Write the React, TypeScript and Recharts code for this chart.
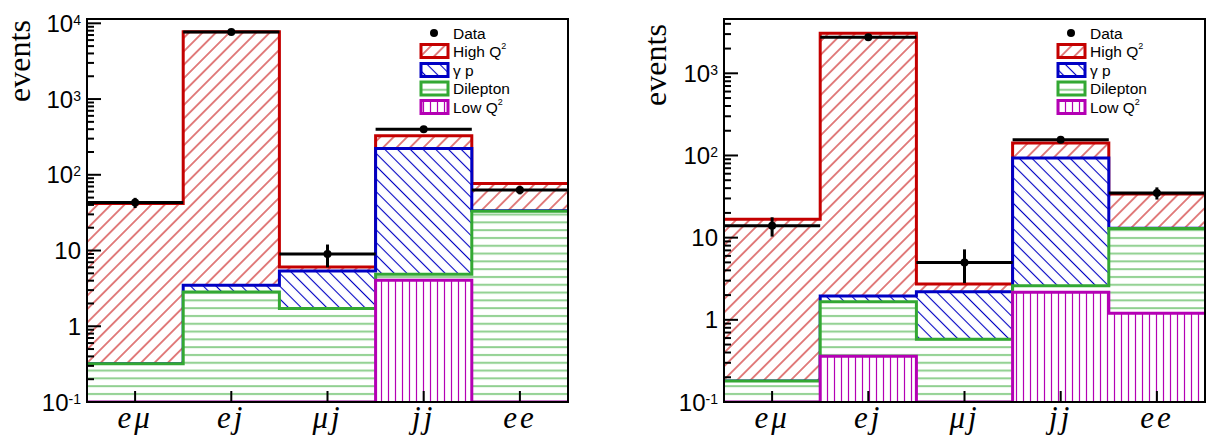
import React from 'react';
import { ComposedChart, Area, Scatter, ErrorBar, XAxis, YAxis, ReferenceArea, Customized } from 'recharts';

// ---------- data ----------
const categories = ['eμ', 'ej', 'μj', 'jj', 'ee'];

// left panel (cumulative stack tops)
const leftHighQ2 = [41.8, 7730, 6.07, 327, 76.7];
const leftGammaP = [0.32, 3.48, 5.38, 222, 33.5];
const leftDilepton = [0.32, 2.84, 1.71, 4.86, 33];
const leftLowQ2 = [0, 0, 0, 4.05, 0];
const leftData = [43, 7700, 9, 400, 63];
const leftErr = [6.6, 88, 3, 20, 7.9];
const leftMax = 11400;

// right panel (cumulative stack tops)
const rightHighQ2 = [16.7, 3070, 2.72, 141.6, 34];
const rightGammaP = [0.18, 1.95, 2.19, 93, 13];
const rightDilepton = [0.18, 1.66, 0.58, 2.6, 12.9];
const rightLowQ2 = [0, 0.36, 0, 2.16, 1.2];
const rightData = [14, 2740, 5, 155, 35];
const rightErr = [3.7, 52, 2.2, 12.4, 5.9];
const rightMax = 4580;

const YMIN = 0.1;

const RED = '#c40000';
const BLUE = '#0000c4';
const GREEN = '#33a833';
const LGREEN = '#8fd08f';
const MAG = '#b400b4';

const SANS = '"Liberation Sans", Arial, Helvetica, sans-serif';
const SERIF = '"Liberation Serif", "Times New Roman", serif';

function buildTable(h: number[], g: number[], d: number[], l: number[]) {
  const rows = [] as any[];
  for (let i = 0; i <= categories.length; i++) {
    const k = Math.min(i, categories.length - 1);
    rows.push({
      x: i,
      red: Math.max(h[k], YMIN),
      blue: Math.max(g[k], YMIN),
      green: Math.max(d[k], YMIN),
      mag: Math.max(l[k], YMIN),
    });
  }
  return rows;
}

function buildPoints(v: number[], e: number[]) {
  return v.map((y, i) => ({ x: i + 0.5, y, ex: 0.5, ey: e[i] }));
}

function buildTicks(max: number) {
  const t: number[] = [];
  for (let e = -1; e <= 4; e++) {
    for (let m = 1; m <= 9; m++) {
      const v = Number((m * Math.pow(10, e)).toPrecision(6));
      if (v <= max * 1.0001) t.push(v);
    }
  }
  return t;
}

const Patterns = ({ p }: { p: string }) => (
  <defs>
    <pattern id={p + 'red'} patternUnits="userSpaceOnUse" width="9.5" height="9.5" patternTransform="rotate(45)">
      <rect width="9.5" height="9.5" fill="#fff" />
      <line x1="4.75" y1="0" x2="4.75" y2="9.5" stroke={RED} strokeWidth="1" />
    </pattern>
    <pattern id={p + 'blue'} patternUnits="userSpaceOnUse" width="9" height="9" patternTransform="rotate(-45)">
      <rect width="9" height="9" fill="#fff" />
      <line x1="4.5" y1="0" x2="4.5" y2="9" stroke={BLUE} strokeWidth="1.1" />
    </pattern>
    <pattern id={p + 'green'} patternUnits="userSpaceOnUse" width="8" height="7.8">
      <rect width="8" height="7.8" fill="#fff" />
      <line x1="0" y1="4" x2="8" y2="4" stroke={LGREEN} strokeWidth="2" />
    </pattern>
    <pattern id={p + 'mag'} patternUnits="userSpaceOnUse" width="7" height="8">
      <rect width="7" height="8" fill="#fff" />
      <line x1="3.5" y1="0" x2="3.5" y2="8" stroke={MAG} strokeWidth="1.2" />
    </pattern>
  </defs>
);

const YTick = (props: any) => {
  const { x, y, payload } = props;
  const v = payload.value;
  const lg = Math.log10(v);
  const ex = Math.round(lg);
  const major = Math.abs(lg - ex) < 1e-6;
  let label: React.ReactNode = null;
  if (major) {
    if (ex === 0 || ex === 1) {
      label = (
        <text x={x - 6} y={y + 8.5} textAnchor="end" fontFamily={SANS} fontSize={24} fill="#000">
          {ex === 0 ? '1' : '10'}
        </text>
      );
    } else {
      label = (
        <text x={x - 6} y={y + 8.5} textAnchor="end" fontFamily={SANS} fontSize={24} fill="#000">
          <tspan>10</tspan>
          <tspan fontSize={14} dy={-7}>{String(ex)}</tspan>
        </text>
      );
    }
  }
  return (
    <g>
      <line x1={x} x2={x + (major ? 14 : 7)} y1={y} y2={y} stroke="#000" strokeWidth={2} />
      {label}
    </g>
  );
};

const XTick = (props: any) => {
  const { x, y, payload } = props;
  const idx = Math.floor(payload.value);
  return (
    <g>
      <line x1={x} x2={x} y1={y} y2={y - 11} stroke="#000" strokeWidth={2} />
      <text x={x} y={y + 26} textAnchor="middle" fontFamily={SERIF} fontStyle="italic" fontSize={31} letterSpacing={3} fill="#000">
        {categories[idx]}
      </text>
    </g>
  );
};

const Swatch = ({ x, y, color, fill }: any) => (
  <rect x={x} y={y - 6.5} width={27} height={13} fill={fill} stroke={color} strokeWidth={3} />
);

const LegendBlock = ({ right, p }: { right: number; p: string }) => {
  const sx = right - 147;
  const tx = right - 115;
  const rows = [
    { y: 51, color: RED, fill: `url(#${p}red)`, label: 'High Q', sup: '2' },
    { y: 70, color: BLUE, fill: `url(#${p}blue)`, label: 'γ p', sup: '' },
    { y: 88.5, color: GREEN, fill: `url(#${p}green)`, label: 'Dilepton', sup: '' },
    { y: 107, color: MAG, fill: `url(#${p}mag)`, label: 'Low Q', sup: '2' },
  ];
  return (
    <g>
      <circle cx={right - 134} cy={33} r={4} fill="#000" />
      <text x={tx} y={38.5} fontFamily={SANS} fontSize={15.5} fill="#000">Data</text>
      {rows.map((r) => (
        <g key={r.label}>
          <Swatch x={sx} y={r.y} color={r.color} fill={r.fill} />
          <text x={tx} y={r.y + 5.5} fontFamily={SANS} fontSize={15.5} fill="#000">
            <tspan>{r.label}</tspan>
            {r.sup ? <tspan fontSize={9} dy={-8}>{r.sup}</tspan> : null}
          </text>
        </g>
      ))}
    </g>
  );
};

const Title = ({ x, y, size }: any) => (
  <text x={x} y={y} transform={`rotate(-90 ${x} ${y})`} textAnchor="middle" fontFamily={SERIF} fontSize={size} fill="#000">
    events
  </text>
);

function Panel(props: any) {
  const { p, width, left, h, g, d, l, data, err, max, titleX, titleY } = props;
  const table = buildTable(h, g, d, l);
  const pts = buildPoints(data, err);
  const ticks = buildTicks(max);
  const plotRight = width - 1 - props.rightMargin;
  return (
    <div style={{ position: 'absolute', left, top: 0, width, height: 439 }}>
      <ComposedChart width={width} height={439} data={table} margin={{ top: 19, right: props.rightMargin, bottom: 0, left: 0 }}>
        <Patterns p={p} />
        <Area type="stepAfter" dataKey="red" stroke={RED} strokeWidth={3} fill={`url(#${p}red)`} fillOpacity={1} baseValue={YMIN} isAnimationActive={false} dot={false} activeDot={false} />
        <Area type="stepAfter" dataKey="blue" stroke={BLUE} strokeWidth={3} fill={`url(#${p}blue)`} fillOpacity={1} baseValue={YMIN} isAnimationActive={false} dot={false} activeDot={false} />
        <Area type="stepAfter" dataKey="green" stroke={GREEN} strokeWidth={3} fill={`url(#${p}green)`} fillOpacity={1} baseValue={YMIN} isAnimationActive={false} dot={false} activeDot={false} />
        <Area type="stepAfter" dataKey="mag" stroke={MAG} strokeWidth={3} fill={`url(#${p}mag)`} fillOpacity={1} baseValue={YMIN} isAnimationActive={false} dot={false} activeDot={false} />
        <Scatter data={pts} dataKey="y" isAnimationActive={false} shape={(s: any) => <circle cx={s.cx} cy={s.cy} r={4} fill="#000" />}>
          <ErrorBar dataKey="ex" direction="x" width={0} stroke="#000" strokeWidth={3} isAnimationActive={false} />
          <ErrorBar dataKey="ey" direction="y" width={0} stroke="#000" strokeWidth={3} isAnimationActive={false} />
        </Scatter>
        <ReferenceArea x1={0} x2={5} y1={YMIN} y2={max} fill="none" stroke="#000" strokeWidth={2} ifOverflow="visible" />
        <XAxis dataKey="x" type="number" domain={[0, 5]} allowDataOverflow ticks={[0.5, 1.5, 2.5, 3.5, 4.5]} interval={0}
          tickSize={0} tickMargin={0} tickLine={false} height={37} tick={<XTick />} axisLine={{ stroke: '#000', strokeWidth: 2 }} />
        <YAxis type="number" scale="log" domain={[YMIN, max]} allowDataOverflow ticks={ticks} interval={0}
          tickSize={0} tickMargin={0} tickLine={false} width={props.yWidth} tick={<YTick />} axisLine={{ stroke: '#000', strokeWidth: 2 }} />
        <Customized component={<g><Title x={titleX} y={titleY} size={32} /><LegendBlock right={plotRight + 1} p={p} /></g>} />
      </ComposedChart>
    </div>
  );
}

export default function App() {
  return (
    <div style={{ position: 'absolute', left: 0, top: 0, width: 1206, height: 439, background: '#fff' }}>
      <Panel p="L" width={600} left={0} yWidth={87} rightMargin={32}
        h={leftHighQ2} g={leftGammaP} d={leftDilepton} l={leftLowQ2} data={leftData} err={leftErr} max={leftMax}
        titleX={30} titleY={61} />
      <Panel p="R" width={606} left={600} yWidth={124} rightMargin={1}
        h={rightHighQ2} g={rightGammaP} d={rightDilepton} l={rightLowQ2} data={rightData} err={rightErr} max={rightMax}
        titleX={66} titleY={65} />
    </div>
  );
}
